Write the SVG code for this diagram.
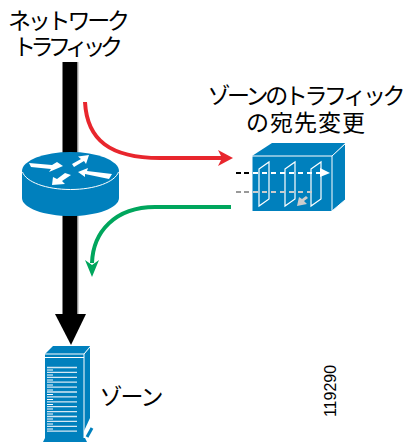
<svg xmlns="http://www.w3.org/2000/svg" width="406" height="442" viewBox="0 0 406 442">
<style>
text{font-family:"Liberation Sans","Noto Sans CJK JP",sans-serif;font-size:23px;fill:#000;text-anchor:middle}
.b{fill:#0080bd}
.w{fill:none;stroke:#fff}
.wf{fill:#fff}
</style>
<rect width="406" height="442" fill="#fff"/>
<g id="connectors" fill="none">
<path d="M70 62V318" stroke="#000" stroke-width="15"/>
<path d="M78 62V318" stroke="#aaa" stroke-width="1"/>
<path d="M55 314H86L71 345Z" fill="#000"/>
<path d="M85 102C87 140 110 158 160 158H222" stroke="#e8262d" stroke-width="4"/>
<path d="M218 150L233 158L218 166L222 158Z" fill="#e8262d"/>
<path d="M231 207H155C115 207 93 232 92 263" stroke="#00a65d" stroke-width="4"/>
<path d="M85 260L92 277L99 260L92 265Z" fill="#00a65d"/>
<path d="M236 173H252" stroke="#000" stroke-width="2" stroke-dasharray="5 3"/>
<path d="M236 192H252" stroke="#999" stroke-width="2" stroke-dasharray="5 3"/>
</g>
<g id="router">
<path class="b" d="M22 172V198C22 208 44 216 70.500 216S119 208 119 198V172Z"/>
<ellipse class="b" cx="70.500" cy="171" rx="48.500" ry="19"/>
<path class="w" d="M22.500 172C26 182 46 189.500 70.500 189.500S115 182 118.500 172" stroke-width="1"/>
<path class="wf" d="M29 163L52 165L57 162L63 166L49 172L51 169L31 167Z"/>
<path class="wf" d="M89 155L78 156.500L81 159L72 164L74 167L84 161L86 164Z"/>
<path class="wf" d="M78 172L88 168L87 171L112 174L109 179L85 174L85 177Z"/>
<path class="wf" d="M52 185L53 177L57 179L65 173L71 175L62 181L65 184Z"/>
</g>
<g id="firewall">
<path class="b" d="M252 156L272 143H345L332 156Z"/>
<path class="b" d="M332 156L345 143V200L332 211Z"/>
<rect class="b" x="252" y="156" width="80" height="55"/>
<path class="w" d="M252 211V156H332V211M332 156L345 144M332 211L345 200" stroke-width="1"/>
<path class="w" d="M259 169L269 162V199L259 206Z" stroke-width="1.200"/>
<path class="w" d="M285 169L295 162V199L285 206Z" stroke-width="1.200"/>
<path class="w" d="M311 169L321 162V199L311 206Z" stroke-width="1.200"/>
<path class="w" d="M253 173H322" stroke-width="2" stroke-dasharray="5 4"/>
<path class="wf" d="M320 168L330 173L320 177Z"/>
<path d="M253 192H315" fill="none" stroke="#ccc" stroke-width="2" stroke-dasharray="5 4"/>
<path d="M297 206L299 197L302 199L306 196L308 198L304 201L307 204Z" fill="#ccc"/>
</g>
<g id="server">
<path class="b" d="M45 354L53 346H90L84 354Z"/>
<path class="b" d="M84 354L90 346V418L84 431Z"/>
<rect class="b" x="45" y="354" width="39" height="84"/>
<path class="w" d="M45 354H84V438M84 354L90 347M45 357.500H84" stroke-width="1"/>
<path class="b" d="M43 442L45 438H85L87 442Z"/>
<g stroke="#d5e8f3" stroke-width="1.300" fill="none">
<path d="M47 367.500H77M47 372.400H77M47 377.300H77M47 382.200H77M47 387.100H77M47 392H77M47 396.900H77M47 401.800H77M47 406.700H77M47 411.600H77M47 416.500H77M47 421.400H77M47 426.300H77M47 431.200H77"/>
</g>
<g stroke="#fff" stroke-width="1" fill="none">
<path d="M47 370H53M47 375H53M47 380H53M47 385H53M47 390H53M47 394.500H53M47 399.500H53M47 404.500H53M47 409H53M47 414H53M47 419H53M47 424H53M47 429H53"/>
</g>
<path d="M87 437L92 428" stroke="#0080bd" stroke-width="3"/>
</g>
<g id="labels">
<text x="69" y="29" textLength="122">ネットワーク</text>
<text x="68" y="55" textLength="110">トラフィック</text>
<text x="306.500" y="104" textLength="198">ゾーンのトラフィック</text>
<text x="305.500" y="131" textLength="119">の宛先変更</text>
<text x="131.500" y="405" textLength="64">ゾーン</text>
<text transform="translate(336 391) rotate(-90)" style="font-size:16px">119290</text>
</g>
</svg>
